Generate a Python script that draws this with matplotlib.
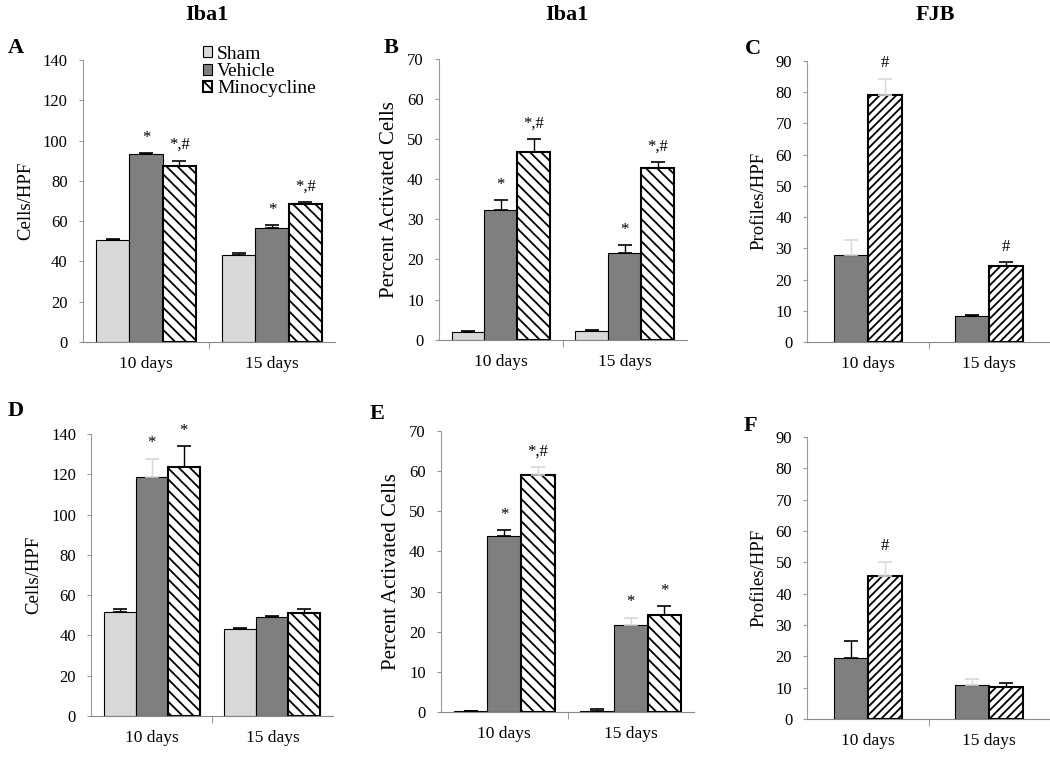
import matplotlib
matplotlib.use('Agg')
import matplotlib.pyplot as plt
import numpy as np

plt.rcParams['font.family'] = ['Liberation Serif', 'DejaVu Serif']
plt.rcParams['hatch.linewidth'] = 1.3

groups = ['10 days', '15 days']
series_names = ['Sham', 'Vehicle', 'Minocycline']

# panel A - Iba1 cells/HPF
a_sham = [50.4, 43.3]
a_sham_err = [0.8, 0.8]
a_veh = [93.4, 56.5]
a_veh_err = [0.3, 1.5]
a_mino = [87.4, 68.4]
a_mino_err = [2.7, 1.0]
a_sig = [['', '', ''], ['*', '*'], ['*,#', '*,#']]

# panel B - Iba1 percent activated
b_sham = [1.8, 2.1]
b_sham_err = [0.4, 0.4]
b_veh = [32.3, 21.6]
b_veh_err = [2.4, 1.9]
b_mino = [46.8, 42.8]
b_mino_err = [3.1, 1.4]
b_sig = [['', ''], ['*', '*'], ['*,#', '*,#']]

# panel C - FJB profiles/HPF (no sham)
c_veh = [27.8, 8.2]
c_veh_err = [5.0, 0.6]
c_mino = [79.2, 24.4]
c_mino_err = [5.0, 1.2]
c_sig = [['', ''], ['#', '#']]

# panel D - Iba1 cells/HPF
d_sham = [51.4, 43.1]
d_sham_err = [1.5, 0.8]
d_veh = [118.6, 48.9]
d_veh_err = [9.0, 0.8]
d_mino = [123.5, 51.2]
d_mino_err = [10.3, 1.8]
d_sig = [['', ''], ['*', ''], ['*', '']]

# panel E - Iba1 percent activated
e_sham = [0.3, 0.35]
e_sham_err = [0.0, 0.4]
e_veh = [43.8, 21.7]
e_veh_err = [1.5, 1.8]
e_mino = [59.0, 24.2]
e_mino_err = [2.0, 2.1]
e_sig = [['', ''], ['*', '*'], ['*,#', '*']]

# panel F - FJB profiles/HPF (no sham)
f_veh = [19.4, 10.9]
f_veh_err = [5.5, 2.0]
f_mino = [45.7, 10.1]
f_mino_err = [4.5, 1.3]
f_sig = [['', ''], ['#', '']]

# error bars that are barely visible in the original (panel, series, group)
faint = {('C', 0, 0), ('C', 1, 0), ('D', 1, 0), ('E', 2, 0), ('E', 1, 1),
         ('F', 1, 0), ('F', 0, 1)}

SHAM = '#d9d9d9'
VEH = '#7f7f7f'

fig = plt.figure(figsize=(10.5, 7.6), dpi=100)

panels = [
    # name, rect, ymax, ystep, ylabel, label size, values, errors, sig, n series, hatch
    ('A', [0.079, 0.550, 0.240, 0.371], 140, 20, 'Cells/HPF', 13.5,
     [a_sham, a_veh, a_mino], [a_sham_err, a_veh_err, a_mino_err], a_sig, 3, '\\\\\\'),
    ('B', [0.418, 0.553, 0.236, 0.370], 70, 10, 'Percent Activated Cells', 15,
     [b_sham, b_veh, b_mino], [b_sham_err, b_veh_err, b_mino_err], b_sig, 3, '\\\\\\'),
    ('C', [0.769, 0.550, 0.231, 0.370], 90, 10, 'Profiles/HPF', 13.5,
     [c_veh, c_mino], [c_veh_err, c_mino_err], c_sig, 2, '////'),
    ('D', [0.087, 0.058, 0.230, 0.371], 140, 20, 'Cells/HPF', 13.5,
     [d_sham, d_veh, d_mino], [d_sham_err, d_veh_err, d_mino_err], d_sig, 3, '\\\\\\'),
    ('E', [0.420, 0.063, 0.241, 0.370], 70, 10, 'Percent Activated Cells', 15,
     [e_sham, e_veh, e_mino], [e_sham_err, e_veh_err, e_mino_err], e_sig, 3, '\\\\\\'),
    ('F', [0.769, 0.054, 0.231, 0.371], 90, 10, 'Profiles/HPF', 13.5,
     [f_veh, f_mino], [f_veh_err, f_mino_err], f_sig, 2, '////'),
]

x = np.arange(len(groups))
for name, rect, ymax, ystep, ylabel, lsize, vals, errs, sig, nser, hatch in panels:
    ax = fig.add_axes(rect)
    if nser == 3:
        w = 0.265
        offsets = [-w, 0, w]
        fills = [SHAM, VEH, 'white']
    else:
        w = 0.28
        offsets = [-w / 2, w / 2]
        fills = [VEH, 'white']
    bars = []
    for i, (v, e) in enumerate(zip(vals, errs)):
        is_mino = i == nser - 1
        b = ax.bar(x + offsets[i], v, w, color=fills[i],
                   edgecolor='black', linewidth=1.5 if is_mino else 0.8,
                   hatch=hatch if is_mino else None, zorder=2)
        bars.append(b)
        for j in range(len(groups)):
            col = '#d8d8d8' if (name, i, j) in faint else 'black'
            ax.errorbar(x[j] + offsets[i], v[j], yerr=[[0], [e[j]]], fmt='none',
                        ecolor=col, elinewidth=1, capsize=5, capthick=1.2, zorder=3)
            if sig[i][j]:
                ax.text(x[j] + offsets[i], v[j] + e[j] + 0.055 * ymax, sig[i][j],
                        ha='center', va='center', fontsize=12, zorder=4,
                        clip_on=False)
    ax.set_xlim(-0.5, 1.5)
    ax.set_ylim(0, ymax)
    ax.set_yticks(np.arange(0, ymax + 1, ystep))
    ax.set_xticks(x)
    ax.set_xticklabels(groups, fontsize=12.5)
    ax.set_xticks([0.5], minor=True)
    ax.tick_params(axis='x', which='major', length=0, pad=10)
    ax.tick_params(axis='x', which='minor', length=5, color='#888888')
    ax.tick_params(axis='y', length=3, color='#999999', labelsize=12, pad=8)
    ax.set_ylabel(ylabel, fontsize=lsize, labelpad=6)
    for s in ['top', 'right']:
        ax.spines[s].set_visible(False)
    ax.spines['left'].set_color('#999999')
    ax.spines['bottom'].set_color('#888888')
    ax.set_facecolor('none')
    if name == 'A':
        ax.legend(bars, series_names, loc='upper left', bbox_to_anchor=(0.193, 0.940),
                  bbox_transform=fig.transFigure, frameon=False, fontsize=14,
                  borderpad=0, borderaxespad=0, handlelength=0.5, handleheight=0.5,
                  handletextpad=0.25, labelspacing=0.02)

# panel letters and column titles
letters = [('A', 0.007, 0.937), ('B', 0.365, 0.937), ('C', 0.709, 0.935),
           ('D', 0.007, 0.459), ('E', 0.352, 0.455), ('F', 0.708, 0.440)]
for s, lx, ly in letters:
    fig.text(lx, ly, s, fontsize=16, fontweight='bold', ha='left', va='center')

titles = [('Iba1', 0.197), ('Iba1', 0.540), ('FJB', 0.891)]
for s, tx in titles:
    fig.text(tx, 0.980, s, fontsize=16, fontweight='bold', ha='center', va='center')

fig.savefig('out.png', dpi=100)
